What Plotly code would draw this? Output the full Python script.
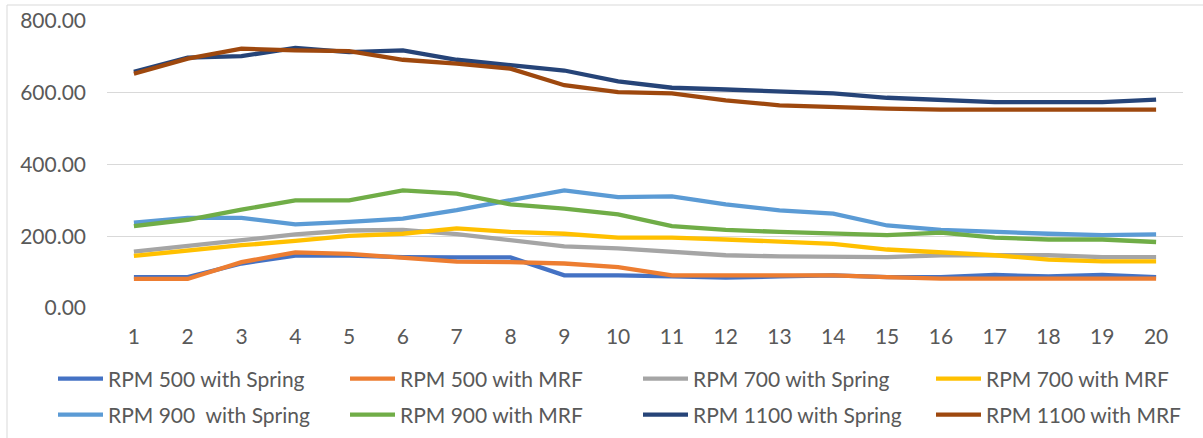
import plotly.graph_objects as go

samples = list(range(1, 21))

rpm500_spring = [86, 86, 124, 146, 146, 142, 141, 141, 91, 91, 88, 85, 88, 91, 86, 86, 92, 88, 92, 86]
rpm500_mrf = [81, 81, 128, 155, 151, 140, 129, 128, 124, 114, 91, 91, 91, 91, 86, 82, 82, 82, 82, 82]
rpm700_spring = [157, 174, 189, 205, 216, 218, 206, 190, 172, 166, 156, 147, 144, 142, 142, 147, 147, 147, 142, 142]
rpm700_mrf = [145, 161, 175, 187, 201, 207, 222, 212, 207, 196, 196, 191, 184, 179, 163, 156, 147, 135, 130, 130]
rpm900_spring = [238, 251, 251, 233, 240, 249, 273, 300, 328, 309, 311, 289, 272, 263, 230, 218, 212, 207, 203, 205]
rpm900_mrf = [228, 246, 274, 300, 300, 328, 319, 289, 277, 261, 228, 218, 212, 207, 203, 210, 196, 191, 191, 184]
rpm1100_spring = [658, 698, 702, 725, 713, 718, 692, 676, 662, 632, 614, 609, 602, 598, 586, 579, 574, 574, 574, 581]
rpm1100_mrf = [653, 695, 723, 718, 716, 692, 681, 667, 621, 602, 598, 579, 565, 559, 556, 553, 553, 553, 553, 553]

y_ticks = [0, 200, 400, 600, 800]

series_names = ["RPM 500 with Spring", "RPM 500 with MRF", "RPM 700 with Spring", "RPM 700 with MRF",
                "RPM 900  with Spring", "RPM 900 with MRF", "RPM 1100 with Spring", "RPM 1100 with MRF"]
series_values = [rpm500_spring, rpm500_mrf, rpm700_spring, rpm700_mrf,
                 rpm900_spring, rpm900_mrf, rpm1100_spring, rpm1100_mrf]
series_colors = ["#4472C4", "#ED7D31", "#A5A5A5", "#FFC000",
                 "#5B9BD5", "#70AD47", "#264478", "#9E480E"]

FONT = "Lato, 'Open Sans', sans-serif"
TXT = "#595959"
FS = 21

W, H = 1203, 438
PL, PR, PT, PB = 107, 1183, 21, 308

# legend layout: 4 columns x 2 rows (text start x, row centre y in pixels)
LEG_TEXT_X = [108, 400, 693, 986]
LEG_ROW_Y = [379, 415]
ITEMW = 45

fig = go.Figure()
legend_layouts = {}
for i, (name, vals, color) in enumerate(zip(series_names, series_values, series_colors)):
    key = "legend" if i == 0 else f"legend{i + 1}"
    fig.add_trace(go.Scatter(
        x=samples, y=vals, name=name, mode="lines",
        line=dict(color=color, width=4.3),
        legend=key,
    ))
    col, row = i % 4, i // 4
    legend_layouts[key] = dict(
        xref="container", yref="container",
        xanchor="left", yanchor="middle",
        x=(LEG_TEXT_X[col] - ITEMW - 10) / W,
        y=1 - LEG_ROW_Y[row] / H,
        font=dict(family=FONT, size=FS, color=TXT),
        bgcolor="rgba(0,0,0,0)",
        itemwidth=ITEMW,
    )

fig.update_layout(
    width=W, height=H,
    paper_bgcolor="white", plot_bgcolor="white",
    margin=dict(l=PL, r=W - PR, t=PT, b=H - PB, autoexpand=False),
    font=dict(family=FONT, size=FS, color=TXT),
    showlegend=True,
    **legend_layouts,
    xaxis=dict(
        range=[0.5, 20.5], tickmode="array", tickvals=samples,
        ticktext=[str(s) for s in samples],
        showgrid=False, zeroline=False, showline=False,
        ticks="", ticklabelstandoff=14,
        tickfont=dict(family=FONT, size=FS, color=TXT),
    ),
    yaxis=dict(
        range=[0, 800], tickmode="array", tickvals=y_ticks,
        tickformat=".2f",
        showgrid=True, gridcolor="#D9D9D9", gridwidth=1,
        zeroline=False, showline=False,
        ticks="", ticklabelstandoff=20,
        tickfont=dict(family=FONT, size=FS, color=TXT),
    ),
    shapes=[dict(
        type="rect", xref="paper", yref="paper",
        x0=(7 - PL) / (PR - PL), x1=(W + 10 - PL) / (PR - PL),
        y0=(PB - (H + 20)) / (PB - PT), y1=(PB - 5) / (PB - PT),
        line=dict(color="#D9D9D9", width=1), fillcolor="rgba(0,0,0,0)",
        layer="below",
    )],
)

fig.write_html("out.html", config={"displayModeBar": False},
               post_script="document.body.style.margin='0';")
